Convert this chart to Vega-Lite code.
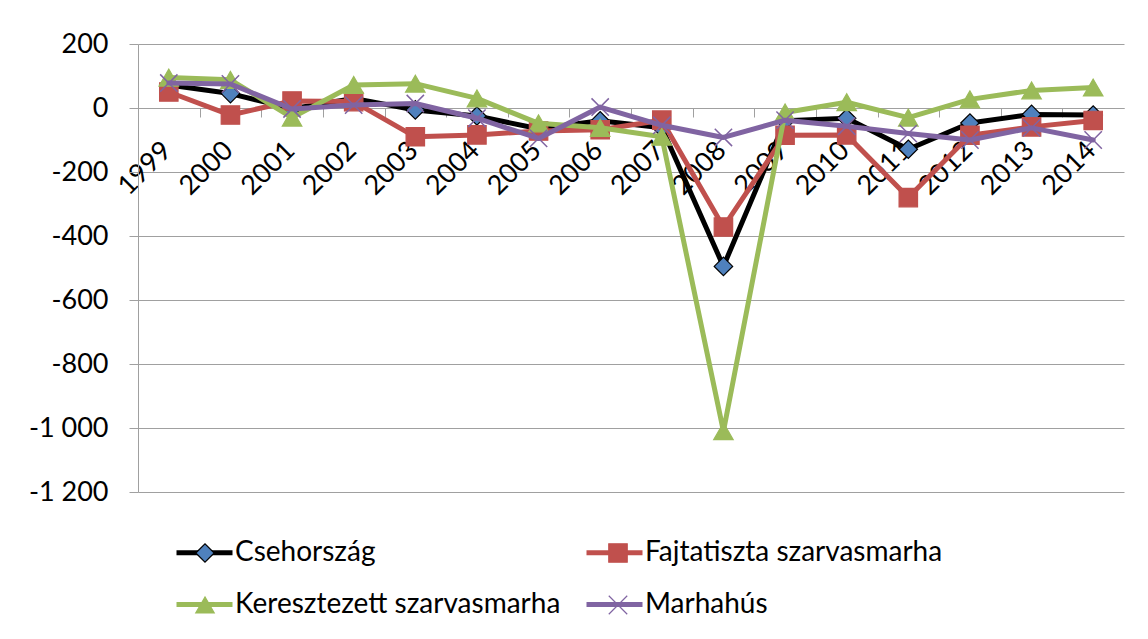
{
  "$schema": "https://vega.github.io/schema/vega-lite/v6.json",
  "width": 986,
  "height": 448,
  "autosize": {"type": "none"},
  "padding": {"left": 138, "top": 44, "right": 24, "bottom": 147},
  "background": "white",
  "config": {
    "font": "Lato",
    "view": {"stroke": null},
    "axis": {"labelFont": "Lato", "labelColor": "#000000"},
    "legend": {"labelFont": "Lato", "labelColor": "#000000"}
  },
  "data": {
    "values": [
      {"year": "1999", "series": "Csehország", "value": 72},
      {"year": "2000", "series": "Csehország", "value": 45},
      {"year": "2001", "series": "Csehország", "value": -2},
      {"year": "2002", "series": "Csehország", "value": 30},
      {"year": "2003", "series": "Csehország", "value": -6},
      {"year": "2004", "series": "Csehország", "value": -25},
      {"year": "2005", "series": "Csehország", "value": -65},
      {"year": "2006", "series": "Csehország", "value": -40},
      {"year": "2007", "series": "Csehország", "value": -62},
      {"year": "2008", "series": "Csehország", "value": -495},
      {"year": "2009", "series": "Csehország", "value": -40},
      {"year": "2010", "series": "Csehország", "value": -32},
      {"year": "2011", "series": "Csehország", "value": -129},
      {"year": "2012", "series": "Csehország", "value": -47},
      {"year": "2013", "series": "Csehország", "value": -20},
      {"year": "2014", "series": "Csehország", "value": -22},
      {"year": "1999", "series": "Fajtatiszta szarvasmarha", "value": 50},
      {"year": "2000", "series": "Fajtatiszta szarvasmarha", "value": -22},
      {"year": "2001", "series": "Fajtatiszta szarvasmarha", "value": 22},
      {"year": "2002", "series": "Fajtatiszta szarvasmarha", "value": 20},
      {"year": "2003", "series": "Fajtatiszta szarvasmarha", "value": -90},
      {"year": "2004", "series": "Fajtatiszta szarvasmarha", "value": -84},
      {"year": "2005", "series": "Fajtatiszta szarvasmarha", "value": -72},
      {"year": "2006", "series": "Fajtatiszta szarvasmarha", "value": -68},
      {"year": "2007", "series": "Fajtatiszta szarvasmarha", "value": -38},
      {"year": "2008", "series": "Fajtatiszta szarvasmarha", "value": -372},
      {"year": "2009", "series": "Fajtatiszta szarvasmarha", "value": -85},
      {"year": "2010", "series": "Fajtatiszta szarvasmarha", "value": -84},
      {"year": "2011", "series": "Fajtatiszta szarvasmarha", "value": -280},
      {"year": "2012", "series": "Fajtatiszta szarvasmarha", "value": -85},
      {"year": "2013", "series": "Fajtatiszta szarvasmarha", "value": -59},
      {"year": "2014", "series": "Fajtatiszta szarvasmarha", "value": -39},
      {"year": "1999", "series": "Keresztezett szarvasmarha", "value": 95},
      {"year": "2000", "series": "Keresztezett szarvasmarha", "value": 88},
      {"year": "2001", "series": "Keresztezett szarvasmarha", "value": -30},
      {"year": "2002", "series": "Keresztezett szarvasmarha", "value": 72},
      {"year": "2003", "series": "Keresztezett szarvasmarha", "value": 76},
      {"year": "2004", "series": "Keresztezett szarvasmarha", "value": 30},
      {"year": "2005", "series": "Keresztezett szarvasmarha", "value": -48},
      {"year": "2006", "series": "Keresztezett szarvasmarha", "value": -62},
      {"year": "2007", "series": "Keresztezett szarvasmarha", "value": -90},
      {"year": "2008", "series": "Keresztezett szarvasmarha", "value": -1010},
      {"year": "2009", "series": "Keresztezett szarvasmarha", "value": -14},
      {"year": "2010", "series": "Keresztezett szarvasmarha", "value": 18},
      {"year": "2011", "series": "Keresztezett szarvasmarha", "value": -30},
      {"year": "2012", "series": "Keresztezett szarvasmarha", "value": 27},
      {"year": "2013", "series": "Keresztezett szarvasmarha", "value": 55},
      {"year": "2014", "series": "Keresztezett szarvasmarha", "value": 64},
      {"year": "1999", "series": "Marhahús", "value": 78},
      {"year": "2000", "series": "Marhahús", "value": 75},
      {"year": "2001", "series": "Marhahús", "value": -3},
      {"year": "2002", "series": "Marhahús", "value": 9},
      {"year": "2003", "series": "Marhahús", "value": 14},
      {"year": "2004", "series": "Marhahús", "value": -32},
      {"year": "2005", "series": "Marhahús", "value": -95},
      {"year": "2006", "series": "Marhahús", "value": 3},
      {"year": "2007", "series": "Marhahús", "value": -54},
      {"year": "2008", "series": "Marhahús", "value": -92},
      {"year": "2009", "series": "Marhahús", "value": -38},
      {"year": "2010", "series": "Marhahús", "value": -57},
      {"year": "2011", "series": "Marhahús", "value": -80},
      {"year": "2012", "series": "Marhahús", "value": -100},
      {"year": "2013", "series": "Marhahús", "value": -62},
      {"year": "2014", "series": "Marhahús", "value": -100}
    ]
  },
  "encoding": {
    "x": {
      "field": "year",
      "type": "ordinal",
      "scale": {"type": "point", "padding": 0.5},
      "axis": {
        "title": null,
        "offset": -384,
        "labelAngle": -45,
        "labelAlign": "right",
        "labelBaseline": "middle",
        "tickSize": 9,
        "tickOffset": -30.8,
        "labelOffset": 28.8,
        "labelPadding": 29,
        "labelFontSize": 27,
        "domainColor": "#a0a0a0",
        "tickColor": "#a0a0a0",
        "grid": false,
        "labelBound": false,
        "labelOverlap": false,
        "labelFlush": false
      }
    },
    "y": {
      "field": "value",
      "type": "quantitative",
      "scale": {"domain": [-1200, 200], "nice": false, "zero": false},
      "axis": {
        "title": null,
        "values": [-1200, -1000, -800, -600, -400, -200, 0, 200],
        "tickSize": 9,
        "labelPadding": 21,
        "labelFontSize": 27,
        "labelExpr": "replace(replace(format(datum.value, ','), ',', ' '), '−', '-')",
        "domainColor": "#a0a0a0",
        "tickColor": "#a0a0a0",
        "gridColor": "#a0a0a0",
        "grid": true,
        "labelFlush": false
      }
    }
  },
  "layer": [
    {
      "transform": [{"filter": "datum.series === 'Csehország'"}],
      "layer": [
        {"mark": {"type": "line", "strokeWidth": 5, "strokeJoin": "round", "strokeCap": "round"}, "encoding": {"color": {"field": "series", "type": "nominal", "scale": {"domain": ["Csehország", "Fajtatiszta szarvasmarha", "Keresztezett szarvasmarha", "Marhahús"], "range": ["#000000", "#C0504D", "#9BBB59", "#8064A2"]}, "legend": {"orient": "none", "legendX": 36, "legendY": 478, "columns": 2, "direction": "horizontal", "symbolType": "stroke", "symbolSize": 3136, "symbolStrokeWidth": 5, "labelFontSize": 28, "labelLimit": 700, "labelOffset": 0, "columnPadding": 15, "rowPadding": 7, "title": null}}}},
        {"mark": {"type": "point", "filled": true, "size": 340, "strokeWidth": 1.2, "opacity": 1}, "encoding": {
          "fill": {"field": "series", "type": "nominal", "scale": {"range": ["#4F81BD", "#C0504D", "#9BBB59", "transparent"]}, "legend": {"orient": "none", "legendX": 53, "legendY": 495, "columns": 2, "direction": "horizontal", "symbolSize": 340, "symbolStrokeWidth": 1.2, "labelFontSize": 28, "labelLimit": 700, "labelOffset": 0, "labelExpr": "''", "columnPadding": 385, "rowPadding": 24, "title": null}},
          "stroke": {"field": "series", "type": "nominal", "scale": {"range": ["#000000", "#C0504D", "#9BBB59", "#8064A2"]}},
          "shape": {"field": "series", "type": "nominal", "scale": {"range": ["diamond", "square", "triangle-up", "M-1,-1L1,1M-1,1L1,-1"]}}
        }}
      ]
    },
    {
      "transform": [{"filter": "datum.series === 'Fajtatiszta szarvasmarha'"}],
      "layer": [
        {"mark": {"type": "line", "strokeWidth": 5, "strokeJoin": "round", "strokeCap": "round"}, "encoding": {"color": {"field": "series", "type": "nominal"}}},
        {"mark": {"type": "point", "filled": true, "size": 340, "strokeWidth": 1.2, "opacity": 1}, "encoding": {
          "fill": {"field": "series", "type": "nominal"},
          "stroke": {"field": "series", "type": "nominal"},
          "shape": {"field": "series", "type": "nominal"}
        }}
      ]
    },
    {
      "transform": [{"filter": "datum.series === 'Keresztezett szarvasmarha'"}],
      "layer": [
        {"mark": {"type": "line", "strokeWidth": 5, "strokeJoin": "round", "strokeCap": "round"}, "encoding": {"color": {"field": "series", "type": "nominal"}}},
        {"mark": {"type": "point", "filled": true, "size": 380, "strokeWidth": 1.2, "opacity": 1}, "encoding": {
          "fill": {"field": "series", "type": "nominal"},
          "stroke": {"field": "series", "type": "nominal"},
          "shape": {"field": "series", "type": "nominal"}
        }}
      ]
    },
    {
      "transform": [{"filter": "datum.series === 'Marhahús'"}],
      "layer": [
        {"mark": {"type": "line", "strokeWidth": 5, "strokeJoin": "round", "strokeCap": "round"}, "encoding": {"color": {"field": "series", "type": "nominal"}}},
        {"mark": {"type": "point", "filled": true, "size": 300, "strokeWidth": 1.5, "opacity": 1}, "encoding": {
          "fill": {"field": "series", "type": "nominal"},
          "stroke": {"field": "series", "type": "nominal"},
          "shape": {"field": "series", "type": "nominal"}
        }}
      ]
    }
  ]
}
